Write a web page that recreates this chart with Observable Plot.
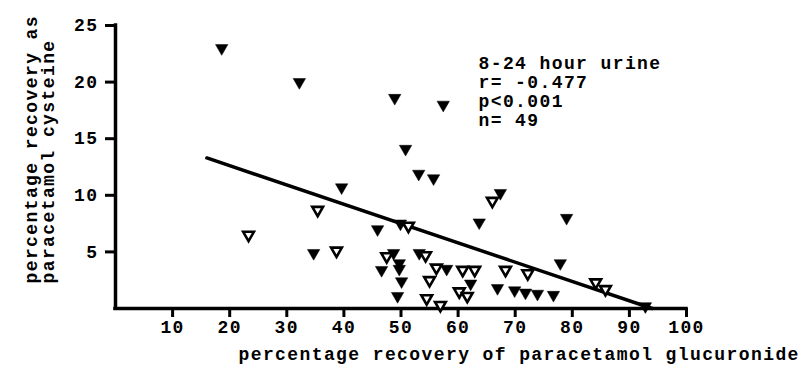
<!DOCTYPE html>
<html>
<head>
<meta charset="utf-8">
<script src="https://cdn.jsdelivr.net/npm/d3@7"></script>
<script src="https://cdn.jsdelivr.net/npm/@observablehq/plot@0.6"></script>
<style>
  html, body { margin: 0; padding: 0; background: #fff; }
  svg text { letter-spacing: 1.4px; font-weight: bold; }
</style>
</head>
<body>
<div id="chart"></div>
<script>
// Percentage recovery of paracetamol glucuronide (x) vs paracetamol cysteine (y), 8-24 h urine
const glucuronide = [
  18.6, 32.2, 48.9, 57.4, 50.8, 53.1, 55.7, 39.6, 67.4, 66.0,
  35.4, 23.3, 34.7, 38.7, 45.9, 49.9, 51.3, 63.7, 79.0, 47.5,
  48.7, 53.2, 54.3, 49.7, 49.7, 46.6, 56.2, 58.0, 60.8, 62.9,
  50.1, 55.0, 62.2, 60.2, 61.6, 49.4, 54.5, 56.9, 77.9, 68.3,
  72.2, 66.9, 69.9, 71.8, 73.9, 76.7, 84.1, 85.8, 92.8
];
const cysteine = [
  23.0, 20.0, 18.6, 18.0, 14.1, 11.9, 11.5, 10.7, 10.2, 9.5,
  8.7, 6.5, 4.9, 5.1, 7.0, 7.5, 7.3, 7.6, 8.0, 4.6,
  4.9, 4.9, 4.7, 4.0, 3.5, 3.4, 3.6, 3.5, 3.4, 3.4,
  2.4, 2.5, 2.2, 1.5, 1.1, 1.1, 0.9, 0.3, 4.0, 3.4,
  3.1, 1.8, 1.6, 1.4, 1.3, 1.2, 2.3, 1.7, 0.2
];
// "open" = hollow triangle, "filled" = solid triangle
const marker = [
  "filled", "filled", "filled", "filled", "filled", "filled", "filled", "filled", "filled", "open",
  "open", "open", "filled", "open", "filled", "filled", "open", "filled", "filled", "open",
  "filled", "filled", "open", "filled", "filled", "filled", "open", "filled", "open", "open",
  "filled", "open", "filled", "open", "open", "filled", "open", "open", "filled", "open",
  "open", "filled", "filled", "filled", "filled", "filled", "open", "open", "filled"
];

// Fitted regression line end points
const fitX = [16, 94];
const fitY = [13.3, 0];

const xTicks = [10, 20, 30, 40, 50, 60, 70, 80, 90, 100];
const yTicks = [5, 10, 15, 20, 25];

const statsText = ["8-24 hour urine", "r= -0.477", "p<0.001", "n= 49"];
const xTitle = "percentage recovery of paracetamol glucuronide";
const yTitle = ["percentage recovery as", "paracetamol cysteine"];

const points = glucuronide.map((g, i) => ({x: g, y: cysteine[i], kind: marker[i]}));
const fit = fitX.map((x, i) => ({x, y: fitY[i]}));

// Downward-pointing triangle symbol
const sqrt3 = Math.sqrt(3);
const triangleDown = {
  draw(context, size) {
    const y = -Math.sqrt(size / (sqrt3 * 3));
    context.moveTo(0, -y * 2);
    context.lineTo(-sqrt3 * y, y);
    context.lineTo(sqrt3 * y, y);
    context.closePath();
  }
};

const font = "Liberation Mono, DejaVu Sans Mono, monospace";
const fs = 18;

const chart = Plot.plot({
  width: 799,
  height: 367,
  marginLeft: 115,
  marginRight: 113,
  marginTop: 25,
  marginBottom: 59,
  style: {fontFamily: font, fontSize: fs + "px", color: "#000", background: "#fff"},
  x: {domain: [0, 100]},
  y: {domain: [0, 25]},
  marks: [
    Plot.axisX({ticks: xTicks, tickSize: 9, tickPadding: 3, strokeWidth: 3, label: null, fontSize: fs}),
    Plot.axisY({ticks: yTicks, tickSize: 10, tickPadding: 7, strokeWidth: 3, label: null, fontSize: fs}),
    Plot.ruleY([0], {stroke: "#000", strokeWidth: 3.5, strokeLinecap: "square"}),
    Plot.ruleX([0], {stroke: "#000", strokeWidth: 3.5, strokeLinecap: "square"}),
    Plot.line(fit, {x: "x", y: "y", stroke: "#000", strokeWidth: 3.5}),
    Plot.dot(points.filter(d => d.kind === "filled"), {
      x: "x", y: "y", symbol: triangleDown, r: 4.6, fill: "#000", stroke: "#000", strokeWidth: 0.5
    }),
    Plot.dot(points.filter(d => d.kind === "open"), {
      x: "x", y: "y", symbol: triangleDown, r: 4.0, fill: "#fff", stroke: "#000", strokeWidth: 2.6
    }),
    Plot.text([statsText.join("\n")], {
      frameAnchor: "top-left", dx: 363, dy: 30, textAnchor: "start", lineAnchor: "top",
      lineHeight: 1.06, fontSize: fs, fill: "#000"
    }),
    Plot.text([xTitle], {
      frameAnchor: "bottom-left", dx: 123, dy: 51, textAnchor: "start", fontSize: fs, fill: "#000"
    }),
    Plot.text([yTitle[0]], {
      frameAnchor: "bottom-left", dx: -84, dy: -25, rotate: -90, textAnchor: "start",
      lineAnchor: "middle", fontSize: fs, fill: "#000"
    }),
    Plot.text([yTitle[1]], {
      frameAnchor: "bottom-left", dx: -67, dy: -25, rotate: -90, textAnchor: "start",
      lineAnchor: "middle", fontSize: fs, fill: "#000"
    })
  ]
});

document.getElementById("chart").appendChild(chart);
</script>
</body>
</html>
